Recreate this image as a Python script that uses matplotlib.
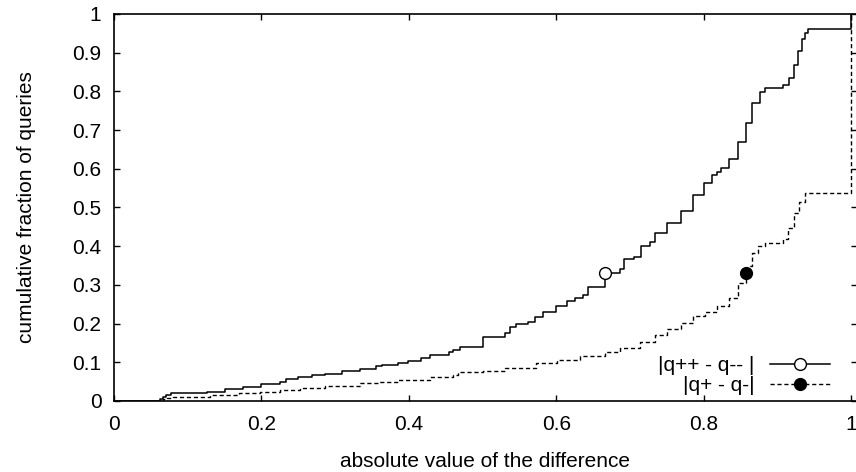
import matplotlib
matplotlib.use('Agg')
import matplotlib.pyplot as plt

plt.rcParams['font.family'] = ['Liberation Sans', 'DejaVu Sans']

# |q++ - q--|  (step points)
x_pp = [0.0, 0.062, 0.066, 0.070, 0.078, 0.126, 0.150, 0.175, 0.200, 0.225,
        0.234, 0.250, 0.268, 0.286, 0.309, 0.334, 0.356, 0.363, 0.386, 0.399,
        0.417, 0.429, 0.454, 0.460, 0.469, 0.500, 0.530, 0.537, 0.545, 0.562,
        0.571, 0.582, 0.600, 0.614, 0.625, 0.636, 0.643, 0.666, 0.687, 0.692,
        0.706, 0.715, 0.727, 0.734, 0.750, 0.769, 0.786, 0.800, 0.812, 0.818,
        0.823, 0.834, 0.846, 0.858, 0.866, 0.876, 0.883, 0.890, 0.908, 0.916,
        0.923, 0.928, 0.934, 0.938, 0.942, 1.0]
y_pp = [0.0, 0.005, 0.010, 0.015, 0.020, 0.024, 0.030, 0.037, 0.043, 0.050,
        0.056, 0.061, 0.066, 0.070, 0.077, 0.082, 0.090, 0.093, 0.099, 0.104,
        0.110, 0.119, 0.126, 0.132, 0.140, 0.166, 0.177, 0.192, 0.199, 0.205,
        0.218, 0.231, 0.245, 0.259, 0.265, 0.274, 0.294, 0.332, 0.340, 0.367,
        0.373, 0.401, 0.412, 0.433, 0.459, 0.492, 0.532, 0.564, 0.584, 0.593,
        0.603, 0.625, 0.668, 0.718, 0.769, 0.799, 0.808, 0.810, 0.817, 0.834,
        0.868, 0.905, 0.935, 0.952, 0.961, 1.0]
mark_pp = 37   # index of the open circle (0.666, 0.332)

# |q+ - q-|
x_p = [0.0, 0.067, 0.072, 0.080, 0.130, 0.170, 0.198, 0.225, 0.252, 0.286,
       0.334, 0.358, 0.385, 0.429, 0.460, 0.467, 0.501, 0.531, 0.573, 0.601,
       0.632, 0.666, 0.687, 0.714, 0.734, 0.750, 0.770, 0.786, 0.802, 0.818,
       0.834, 0.846, 0.858, 0.863, 0.866, 0.874, 0.883, 0.908, 0.915, 0.923,
       0.929, 0.938, 1.0]
y_p = [0.0, 0.004, 0.008, 0.011, 0.015, 0.020, 0.024, 0.028, 0.033, 0.039,
       0.047, 0.050, 0.054, 0.063, 0.067, 0.075, 0.078, 0.084, 0.099, 0.106,
       0.115, 0.127, 0.136, 0.153, 0.171, 0.185, 0.202, 0.220, 0.231, 0.245,
       0.265, 0.304, 0.332, 0.349, 0.383, 0.400, 0.409, 0.418, 0.446, 0.485,
       0.515, 0.538, 1.0]
mark_p = 32   # index of the filled circle (0.858, 0.332)

xticks = [0, 0.2, 0.4, 0.6, 0.8, 1]
xticklabels = ['0', '0.2', '0.4', '0.6', '0.8', '1']
yticks = [0, 0.1, 0.2, 0.3, 0.4, 0.5, 0.6, 0.7, 0.8, 0.9, 1]
yticklabels = ['0', '0.1', '0.2', '0.3', '0.4', '0.5', '0.6', '0.7', '0.8', '0.9', '1']

fs = 15

fig = plt.figure(figsize=(8.56, 4.72), dpi=100)
ax = fig.add_axes([114 / 856, 71 / 472, 743 / 856, 387 / 472])

ax.plot(x_pp, y_pp, drawstyle='steps-post', color='black', lw=1.1,
        marker='o', markevery=[mark_pp], markersize=8.5, markerfacecolor='white',
        markeredgecolor='black', markeredgewidth=1.0, label='|q++ - q-- |')
ax.plot(x_p, y_p, drawstyle='steps-post', color='black', lw=1.0,
        linestyle=(0, (3, 2)), marker='o', markevery=[mark_p], markersize=8.5,
        markerfacecolor='black', markeredgecolor='black', label='|q+ - q-|')

ax.set_xlim(0, 743 / 737)
ax.set_ylim(0, 1)
ax.set_xticks(xticks)
ax.set_xticklabels(xticklabels)
ax.set_yticks(yticks)
ax.set_yticklabels(yticklabels)
ax.tick_params(direction='in', length=4.5, width=1.0, top=True, right=True,
               labelsize=fs)
ax.tick_params(axis='x', pad=10)
ax.tick_params(axis='y', pad=9)
for s in ax.spines.values():
    s.set_linewidth(1.2)

ax.set_xlabel('absolute value of the difference', fontsize=fs, labelpad=13)
ax.set_ylabel('cumulative fraction of queries', fontsize=fs, labelpad=26)

ax.legend(loc='lower right', bbox_to_anchor=(0.975, -0.006), frameon=False,
          markerfirst=False, handlelength=2.9, handletextpad=0.72,
          borderaxespad=0, labelspacing=0.05, fontsize=fs, numpoints=1)

plt.savefig('out.png', dpi=100)
